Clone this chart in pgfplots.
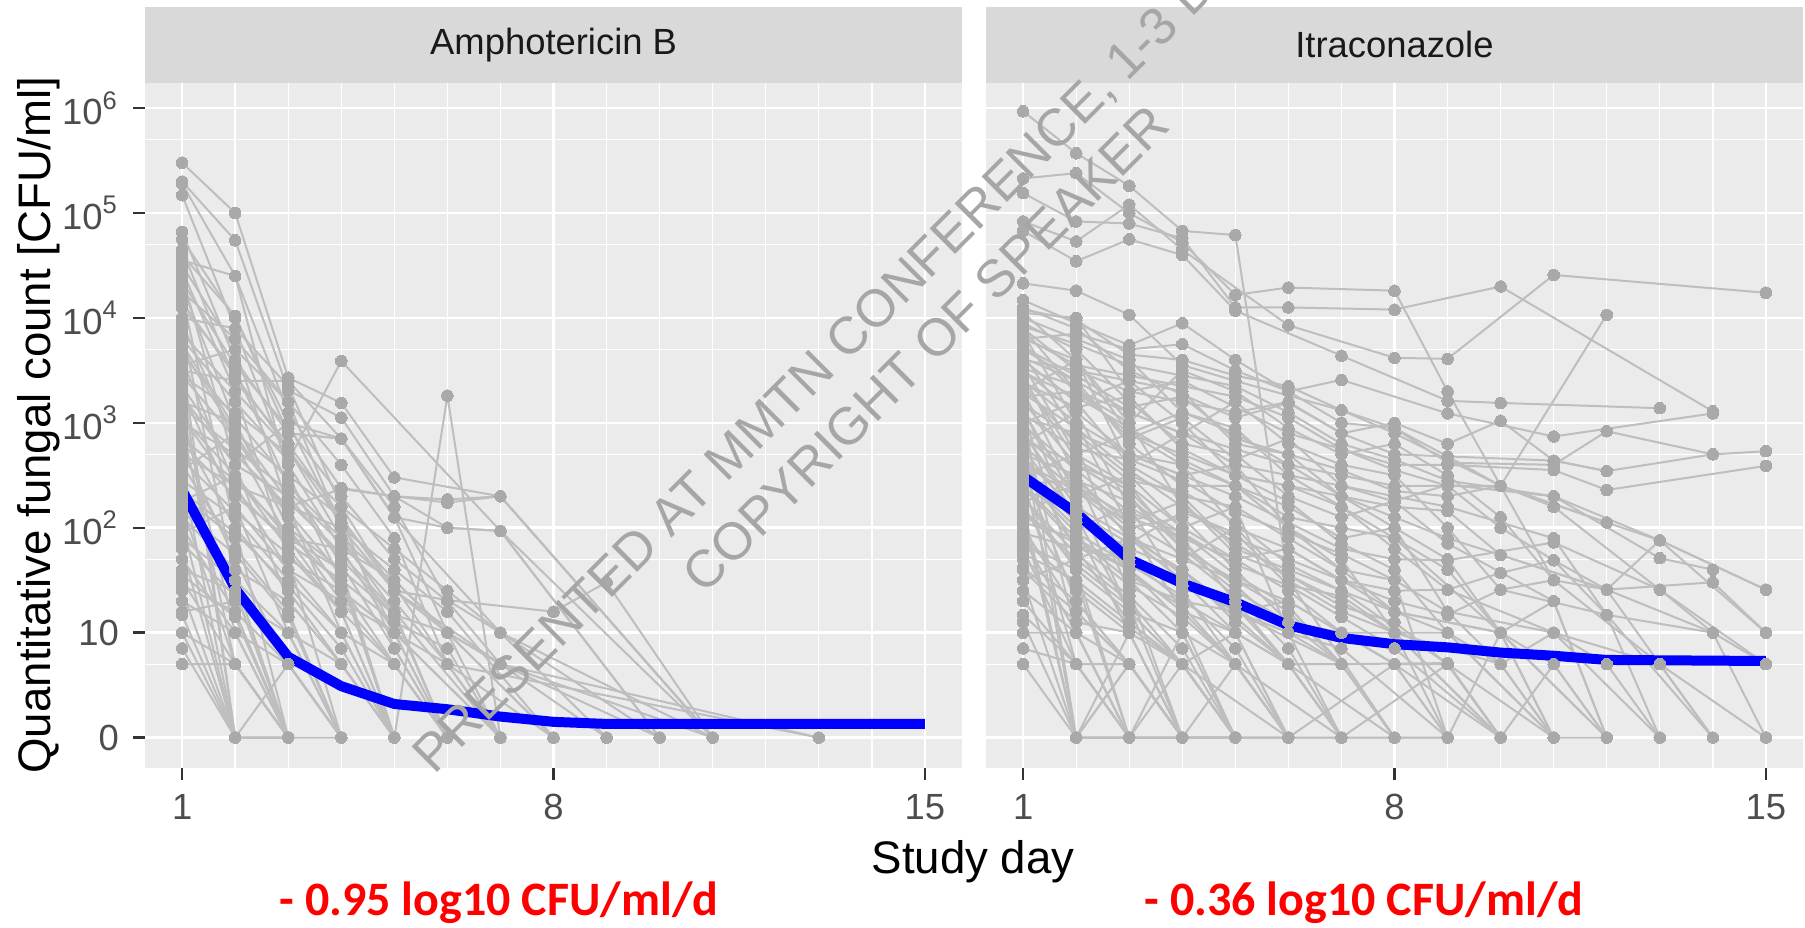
\documentclass[border=0pt]{standalone}
\usepackage{fontspec}
\setmainfont{Liberation Sans}
\newfontfamily\calib{Carlito}
\usepackage{pgfplots}
\pgfplotsset{compat=1.18}
\definecolor{panelbg}{HTML}{EBEBEB}
\definecolor{stripbg}{HTML}{D9D9D9}
\definecolor{linegray}{HTML}{BEBEBE}
\definecolor{ptgray}{HTML}{A9A9A9}
\definecolor{tickgray}{HTML}{4D4D4D}
\definecolor{tickmark}{HTML}{333333}
\definecolor{wm}{HTML}{A6A6A6}
\pgfplotsset{
  gg/.style={
    scale only axis, width=204.25pt, height=171.25pt,
    xmin=0.3, xmax=15.7, ymin=-0.29, ymax=6.24,
    axis background/.style={fill=panelbg},
    axis line style={draw=none},
    grid=both,
    major grid style={white, line width=0.65pt},
    minor grid style={white, line width=0.35pt},
    xtick={1,8,15}, xticklabels={1,8,15},
    minor xtick={2,3,4,5,6,7,9,10,11,12,13,14},
    ytick={0,1,2,3,4,5,6},
    minor ytick={-0.30103,0.69897,1.69897,2.69897,3.69897,4.69897,5.69897},
    tick align=outside, major tick length=3pt, minor tick length=0pt,
    xtick pos=left, ytick pos=left,
    major tick style={tickmark, line width=0.6pt},
    tick label style={font=\fontsize{9.1}{10.9}\selectfont, text=tickgray},
  },
  s/.style={color=linegray, line width=0.5pt, mark=*, mark size=1.45pt,
    mark options={fill=ptgray, draw=ptgray, line width=0pt}},
  mean/.style={color=blue, line width=2.5pt, line join=round, no marks},
}
\begin{document}
\begin{tikzpicture}
\useasboundingbox (0,0) rectangle (451.25pt,232pt);
% ---------------- Amphotericin B ----------------
\begin{axis}[gg, at={(36.25pt,40pt)}, anchor=south west,
  yticklabels={0,10,10\textsuperscript{2},10\textsuperscript{3},10\textsuperscript{4},10\textsuperscript{5},10\textsuperscript{6}}]
\addplot[s] coordinates {(1,5.48)(2,5.0)(3,3.43)(4,3.19)(5,2.48)(7,2.3)(11,0)};
\addplot[s] coordinates {(1,5.3)(2,4.74)(3,3.31)(4,3.05)(5,2.3)(6,2.24)(7,2.3)(11,0)};
\addplot[s] coordinates {(1,5.28)(2,4.4)(3,3.1)(4,2.38)(5,2.3)(6,2.0)(7,1.97)(10,0)};
\addplot[s] coordinates {(1,5.17)(2,3.9)(3,2.6)(4,1.8)(5,1.0)(6,0)};
\addplot[s] coordinates {(1,4.82)(2,3.6)(3,2.9)(4,2.85)(5,2.1)(7,1.0)(10,0)};
\addplot[s] coordinates {(1,4.75)(2,4.0)(3,3.0)(4,2.0)(5,1.4)(6,1.31)(8,1.2)(9,1.48)(11,0)};
\addplot[s] coordinates {(1,4.55)(2,4.4)(3,2.5)(4,1.5)(5,0)};
\addplot[s] coordinates {(1,4.5)(2,3.7)(3,2.2)(4,1.0)(5,0)};
\addplot[s] coordinates {(1,4.45)(2,3.3)(3,1.7)(4,0)};
\addplot[s] coordinates {(1,4.4)(2,2.6)(3,1.3)(4,0.7)(5,0)};
\addplot[s] coordinates {(1,4.3)(2,3.0)(3,2.0)(4,1.6)(5,1.17)(6,1.0)(7,0.7)(10,0)};
\addplot[s] coordinates {(1,4.2)(2,2.0)(3,0)};
\addplot[s] coordinates {(1,4.1)(2,3.5)(3,2.4)(4,1.9)(5,1.45)(6,0.7)(8,0)};
\addplot[s] coordinates {(1,4.0)(2,3.9)(3,3.35)(4,2.2)(5,1.4)(6,1.0)(7,0)};
\addplot[s] coordinates {(1,3.95)(2,2.8)(3,1.9)(4,1.2)(5,0.7)(6,0)};
\addplot[s] coordinates {(1,3.9)(2,1.5)(3,0)(4,0)};
\addplot[s] coordinates {(1,3.8)(2,3.2)(3,2.64)(4,3.59)(7,1.97)(11,0)};
\addplot[s] coordinates {(1,3.7)(2,2.9)(3,2.1)(4,1.4)(5,1.0)(6,0.7)(7,0)};
\addplot[s] coordinates {(1,3.6)(2,2.4)(3,1.6)(4,1.0)(5,0)};
\addplot[s] coordinates {(1,3.5)(2,3.4)(3,2.8)(4,2.1)(5,0.85)(6,0)};
\addplot[s] coordinates {(1,3.4)(2,0)(3,0)};
\addplot[s] coordinates {(1,3.35)(2,2.6)(3,2.3)(4,1.7)(5,1.17)(6,0)};
\addplot[s] coordinates {(1,3.3)(2,2.2)(3,1.0)(4,0)};
\addplot[s] coordinates {(1,3.2)(2,3.0)(3,2.0)(4,1.3)(5,0.7)(6,0)};
\addplot[s] coordinates {(1,3.1)(2,1.0)(3,0)};
\addplot[s] coordinates {(1,3.05)(2,2.5)(3,1.8)(4,1.2)(5,0)};
\addplot[s] coordinates {(1,3.0)(2,2.7)(3,2.2)(4,2.0)(5,1.0)(7,0)};
\addplot[s] coordinates {(1,2.95)(2,0.7)(3,0)};
\addplot[s] coordinates {(1,2.9)(2,2.0)(3,1.4)(4,0.7)(5,0)};
\addplot[s] coordinates {(1,2.8)(2,2.3)(3,1.9)(4,1.6)(5,0)(6,3.26)(7,0)};
\addplot[s] coordinates {(1,2.75)(2,1.7)(3,0.7)(4,0)};
\addplot[s] coordinates {(1,2.7)(2,2.4)(3,2.2)(4,2.37)(5,2.3)(6,2.27)(7,2.3)(11,0)};
\addplot[s] coordinates {(1,2.6)(2,1.8)(3,1.2)(4,0)};
\addplot[s] coordinates {(1,2.5)(2,0)(3,0.7)(4,0)};
\addplot[s] coordinates {(1,2.45)(2,2.1)(3,1.5)(4,1.0)(5,0.7)(6,0)};
\addplot[s] coordinates {(1,2.4)(2,1.4)(3,0)};
\addplot[s] coordinates {(1,2.3)(2,1.9)(3,1.7)(4,1.4)(5,1.0)(6,0)};
\addplot[s] coordinates {(1,2.2)(2,0.7)(3,0)};
\addplot[s] coordinates {(1,2.1)(2,1.6)(3,1.3)(4,0.7)(5,0)};
\addplot[s] coordinates {(1,2.0)(2,1.2)(3,0)};
\addplot[s] coordinates {(1,1.9)(2,1.5)(3,1.0)(4,0)};
\addplot[s] coordinates {(1,1.8)(2,0)};
\addplot[s] coordinates {(1,1.7)(2,1.0)(3,0.7)(4,0)};
\addplot[s] coordinates {(1,1.6)(2,1.4)(3,0)};
\addplot[s] coordinates {(1,1.5)(2,0.7)(3,0)};
\addplot[s] coordinates {(1,1.4)(2,0)};
\addplot[s] coordinates {(1,1.3)(2,1.0)(3,0)};
\addplot[s] coordinates {(1,1.17)(2,0)};
\addplot[s] coordinates {(1,1.0)(2,0.7)(3,0)};
\addplot[s] coordinates {(1,0.85)(2,0)};
\addplot[s] coordinates {(1,0.7)(2,0.7)(3,0)};
\addplot[s] coordinates {(1,4.6)(2,4.02)(3,2.9)(4,2.85)(5,2.2)(6,1.31)(7,1.0)(9,0)};
\addplot[s] coordinates {(1,3.55)(2,3.7)(3,3.2)(4,2.0)(5,1.6)(6,1.2)(8,0)};
\addplot[s] coordinates {(1,2.55)(2,2.9)(3,2.5)(4,2.1)(5,1.4)(7,0.7)(13,0)};
\addplot[s] coordinates {(1,3.25)(2,2.6)(3,3.0)(4,2.85)(5,2.1)(6,2.0)(7,1.97)(10,0)};
\addplot[s] coordinates {(1,2.25)(2,2.5)(3,1.9)(4,1.8)(5,1.5)(6,1.0)(7,0.7)(11,0)};
\addplot[s] coordinates {(1,1.95)(2,2.2)(3,1.6)(4,1.3)(5,1.0)(7,0)};
\addplot[s] coordinates {(1,3.45)(2,3.1)(3,2.7)(4,2.2)(5,1.8)(6,1.4)(7,1.0)(11,0)};
\addplot[s] coordinates {(1,4.25)(2,3.8)(3,3.2)(4,2.6)(5,1.9)(6,0.7)(13,0)};
\addplot[s] coordinates {(1,4.65)(2,3.4)(3,3.4)(4,2.85)(5,2.1)(6,1.0)(8,0)};
\addplot[s] coordinates {(1,1.2)(2,1.3)(3,1.0)(4,0.7)(5,0)};
\addplot[s] coordinates {(1,1.0)(2,0)(3,0)};
\addplot[s] coordinates {(1,3.85)(2,3.3)(3,2.75)(4,1.9)(5,1.2)(6,0)};
\addplot[s] coordinates {(1,3.65)(2,3.05)(3,2.45)(4,1.65)(5,0.85)(6,0)};
\addplot[s] coordinates {(1,3.45)(2,2.85)(3,2.15)(4,1.55)(5,0)};
\addplot[s] coordinates {(1,3.15)(2,2.75)(3,2.35)(4,1.85)(5,1.3)(6,0.7)(7,0)};
\addplot[s] coordinates {(1,2.85)(2,2.45)(3,1.95)(4,1.45)(5,0.7)(6,0)};
\addplot[s] coordinates {(1,2.65)(2,2.15)(3,1.75)(4,1.2)(5,0)};
\addplot[s] coordinates {(1,2.35)(2,1.95)(3,1.45)(4,0.85)(5,0)};
\addplot[s] coordinates {(1,2.15)(2,1.75)(3,1.15)(4,0)};
\addplot[s] coordinates {(1,1.85)(2,1.35)(3,0.7)(4,0)};
\addplot[s] coordinates {(1,1.55)(2,1.15)(3,0)};
\addplot[s] coordinates {(1,4.35)(2,3.55)(3,2.95)(4,2.3)(5,1.7)(6,1.3)(7,0.7)(9,0)};
\addplot[s] coordinates {(1,4.15)(2,3.45)(3,2.75)(4,2.05)(5,1.5)(6,1.0)(8,0)};
\addplot[s] coordinates {(1,3.75)(2,2.95)(3,2.25)(4,1.75)(5,1.2)(7,0)};
\addplot[s] coordinates {(1,3.58)(2,0)(3,0)};
\addplot[s] coordinates {(1,2.05)(2,0)(3,0)};
\addplot[s] coordinates {(1,1.45)(2,1.2)(3,0.7)(4,0)};
\addplot[s] coordinates {(1,3.05)(2,2.35)(3,1.85)(4,1.5)(5,1.1)(6,0.85)(7,0)};
\addplot[mean] coordinates {(1,2.36)(2,1.42)(3,0.77)(4,0.49)(5,0.32)(6,0.27)(7,0.2)(8,0.15)(9,0.13)(15,0.13)};
\end{axis}
% ---------------- Itraconazole ----------------
\begin{axis}[gg, at={(246.5pt,40pt)}, anchor=south west,
  yticklabels={}, ytick style={draw=none}]
\addplot[s] coordinates {(1,5.97)(2,5.57)(3,5.26)(4,4.83)(5,4.79)(6,1.5)(8,0)};
\addplot[s] coordinates {(1,5.33)(2,5.38)(3,5.0)(4,4.72)(5,4.22)(6,4.29)(8,4.26)(9,3.3)(11,1.5)};
\addplot[s] coordinates {(1,5.19)(2,4.92)(3,4.9)(4,4.76)(5,4.1)(6,4.1)(8,4.08)(10,4.3)(14,3.11)};
\addplot[s] coordinates {(1,4.92)(2,4.73)(3,5.08)(4,4.65)(6,3.93)(8,3.62)(9,3.61)(11,4.41)(15,4.24)};
\addplot[s] coordinates {(1,4.83)(2,4.54)(3,4.75)(4,4.6)(5,4.07)(7,3.64)(9,3.21)(10,3.19)(13,3.14)};
\addplot[s] coordinates {(1,4.33)(2,4.26)(3,4.03)(4,3.55)(5,3.4)(7,3.12)(8,2.9)(10,2.4)(12,4.03)};
\addplot[s] coordinates {(1,4.17)(2,3.95)(3,3.74)(4,3.95)(5,3.6)(6,3.3)(7,3.41)(9,3.09)(11,2.87)(14,3.09)};
\addplot[s] coordinates {(1,4.1)(2,3.9)(3,3.5)(4,3.27)(5,3.05)(6,3.19)(7,2.9)(8,2.7)(9,2.68)(11,2.64)(12,2.54)(14,2.7)(15,2.73)};
\addplot[s] coordinates {(1,4.05)(2,4.0)(3,3.3)(4,3.4)(6,2.9)(8,2.6)(9,2.6)(11,2.55)(12,2.36)(15,2.59)};
\addplot[s] coordinates {(1,4.0)(2,3.8)(3,3.6)(4,3.1)(5,2.9)(6,2.6)(7,2.5)(8,2.4)(10,2.4)(12,2.05)(13,1.88)(15,1.41)};
\addplot[s] coordinates {(1,3.95)(2,3.7)(3,3.2)(4,2.8)(5,2.7)(6,2.3)(7,2.1)(9,2.41)(11,2.3)(13,1.71)(14,1.6)};
\addplot[s] coordinates {(1,3.9)(2,3.5)(3,3.4)(4,3.0)(5,2.5)(6,2.4)(8,2.2)(9,2.16)(10,1.74)(12,1.41)(14,1.48)(15,1.0)};
\addplot[s] coordinates {(1,3.85)(2,3.0)(3,2.7)(4,2.5)(5,2.3)(7,1.8)(8,1.7)(9,1.69)(11,1.86)(13,1.41)(15,0.7)};
\addplot[s] coordinates {(1,3.8)(2,3.6)(3,2.9)(4,2.6)(5,2.0)(6,1.8)(7,1.5)(8,1.4)(9,1.41)(10,1.57)(11,1.69)(12,1.17)(14,1.0)(15,0)};
\addplot[s] coordinates {(1,3.75)(2,3.3)(3,3.0)(4,2.2)(5,1.9)(6,1.7)(8,1.3)(9,1.17)(10,1.41)(11,1.5)(13,0.7)(14,0)};
\addplot[s] coordinates {(1,3.7)(2,3.4)(3,2.8)(4,2.4)(5,2.4)(6,2.1)(7,2.0)(8,1.9)(10,1.0)(11,1.3)(12,0)};
\addplot[s] coordinates {(1,3.65)(2,2.9)(3,2.5)(4,2.0)(5,1.7)(6,1.4)(7,1.0)(9,1.0)(10,0.7)(11,1.0)(13,0)};
\addplot[s] coordinates {(1,3.6)(2,3.2)(3,2.6)(4,2.3)(5,2.2)(6,1.0)(7,0.7)(9,0.71)(10,0)(11,0.7)(12,0)};
\addplot[s] coordinates {(1,3.55)(2,2.7)(3,2.4)(4,1.8)(5,1.5)(6,1.2)(7,0.7)(8,0)(9,0)};
\addplot[s] coordinates {(1,3.5)(2,3.1)(3,2.2)(4,1.9)(5,1.3)(6,0.7)(7,0)(9,0.7)(11,0)};
\addplot[s] coordinates {(1,3.45)(2,2.5)(3,1.9)(4,1.5)(5,1.0)(6,0)(8,0.7)(10,0)};
\addplot[s] coordinates {(1,3.4)(2,3.0)(3,2.0)(4,1.2)(5,0.7)(6,0)};
\addplot[s] coordinates {(1,3.35)(2,2.8)(3,1.5)(4,1.0)(5,0)(7,0)};
\addplot[s] coordinates {(1,3.3)(2,2.3)(3,1.2)(4,0.7)(5,0)};
\addplot[s] coordinates {(1,3.25)(2,3.3)(3,3.1)(4,2.9)(5,3.2)(6,2.8)(7,2.6)(8,2.5)(9,2.0)(10,1.41)(12,1.17)(13,0)};
\addplot[s] coordinates {(1,3.2)(2,2.6)(3,2.3)(4,1.7)(5,2.0)(6,1.5)(7,1.2)(8,1.0)(10,0)};
\addplot[s] coordinates {(1,3.15)(2,2.0)(3,1.0)(4,0)(6,0)};
\addplot[s] coordinates {(1,3.1)(2,1.5)(3,0)(5,0)};
\addplot[s] coordinates {(1,3.05)(2,2.9)(3,2.7)(4,2.6)(5,2.4)(6,2.2)(7,1.9)(8,2.0)(9,1.7)(10,1.0)(11,0)};
\addplot[s] coordinates {(1,3.0)(2,2.4)(3,2.0)(4,2.1)(5,1.6)(6,1.1)(7,1.0)(8,0.7)(9,0)};
\addplot[s] coordinates {(1,2.95)(2,1.0)(3,0)(4,0)};
\addplot[s] coordinates {(1,2.9)(2,2.2)(3,1.7)(4,1.3)(5,1.2)(7,0.7)(8,0)};
\addplot[s] coordinates {(1,2.85)(2,2.6)(3,2.4)(4,2.0)(5,2.2)(6,1.9)(7,1.6)(8,1.5)(9,0)(10,1.0)(11,0.7)(12,0)};
\addplot[s] coordinates {(1,2.8)(2,0)(3,0.7)(4,0)};
\addplot[s] coordinates {(1,2.75)(2,2.1)(3,1.8)(4,1.6)(5,1.1)(6,0.7)(7,0)(8,0)};
\addplot[s] coordinates {(1,2.7)(2,2.5)(3,1.4)(4,0)(5,0)};
\addplot[s] coordinates {(1,2.65)(2,1.8)(3,1.1)(4,0.7)(5,1.0)(6,0)};
\addplot[s] coordinates {(1,2.6)(2,2.3)(3,2.5)(4,2.3)(5,1.8)(6,1.6)(7,1.4)(8,1.2)(9,1.0)(11,0)};
\addplot[s] coordinates {(1,2.55)(2,1.3)(3,0.7)(4,0)};
\addplot[s] coordinates {(1,2.5)(2,2.0)(3,2.2)(4,1.4)(5,0.7)(6,0)(7,0)};
\addplot[s] coordinates {(1,2.45)(2,0.7)(3,0)(5,0)};
\addplot[s] coordinates {(1,2.4)(2,1.9)(3,1.6)(4,1.1)(5,0)};
\addplot[s] coordinates {(1,2.35)(2,2.2)(3,1.9)(4,1.7)(5,1.5)(6,1.3)(7,1.0)(8,0.7)(9,0.7)(10,0)};
\addplot[s] coordinates {(1,2.3)(2,1.6)(3,0)(4,0.7)(5,0)};
\addplot[s] coordinates {(1,2.25)(2,2.4)(3,2.1)(4,1.9)(5,1.7)(6,1.8)(7,1.5)(8,1.2)(10,1.0)(12,0)};
\addplot[s] coordinates {(1,2.2)(2,1.4)(3,1.0)(4,0)};
\addplot[s] coordinates {(1,2.15)(2,1.7)(3,1.3)(4,0.7)(6,0)};
\addplot[s] coordinates {(1,2.1)(2,0)(3,0)};
\addplot[s] coordinates {(1,2.05)(2,1.9)(3,1.5)(4,1.3)(5,1.0)(6,0.7)(7,0.7)(8,0)};
\addplot[s] coordinates {(1,2.0)(2,1.2)(3,0.7)(4,0)(5,0)};
\addplot[s] coordinates {(1,1.95)(2,1.8)(3,1.7)(4,1.5)(5,1.2)(6,1.0)(7,0)(9,0)};
\addplot[s] coordinates {(1,1.9)(2,1.0)(3,0)(4,0)};
\addplot[s] coordinates {(1,1.85)(2,1.6)(3,1.2)(4,1.0)(5,0.7)(6,0)};
\addplot[s] coordinates {(1,1.8)(2,0.7)(3,0)};
\addplot[s] coordinates {(1,1.75)(2,1.5)(3,1.1)(4,0.7)(5,0)(6,0)};
\addplot[s] coordinates {(1,1.7)(2,1.3)(3,0.7)(4,0)};
\addplot[s] coordinates {(1,1.6)(2,1.1)(3,1.0)(4,0.7)(5,0)};
\addplot[s] coordinates {(1,1.5)(2,0)(3,0.7)(4,0)};
\addplot[s] coordinates {(1,1.4)(2,1.0)(3,0.7)(4,0)};
\addplot[s] coordinates {(1,1.3)(2,0.7)(3,0)};
\addplot[s] coordinates {(1,1.17)(2,0.7)(3,0.7)(4,0)};
\addplot[s] coordinates {(1,1.0)(2,1.0)(3,0)};
\addplot[s] coordinates {(1,0.7)(2,0)(3,0)};
\addplot[s] coordinates {(1,0.85)(2,0.7)(3,0)};
\addplot[s] coordinates {(1,1.1)(2,0)(3,0)};
\addplot[s] coordinates {(1,3.8)(2,3.85)(3,3.7)(4,3.75)(5,3.5)(6,3.3)(7,3.0)(8,2.95)(9,2.62)(11,2.6)(12,2.92)(14,2.7)};
\addplot[s] coordinates {(1,3.6)(2,3.5)(3,3.3)(4,3.2)(5,3.1)(6,3.2)(7,2.9)(8,3.0)(9,2.8)(10,3.02)(11,2.64)(12,2.54)};
\addplot[s] coordinates {(1,3.0)(2,3.2)(3,3.4)(4,3.3)(5,2.8)(6,2.7)(7,2.3)(8,2.1)(9,1.9)(10,1.74)(12,1.41)(13,0.7)(15,0)};
\addplot[s] coordinates {(1,2.5)(2,2.7)(3,2.9)(4,3.1)(5,2.95)(6,2.5)(7,2.2)(8,1.8)(9,1.41)(11,1.0)(13,0.7)(14,0)};
\addplot[s] coordinates {(1,2.8)(2,3.1)(3,2.7)(4,2.5)(5,2.6)(6,2.0)(7,1.7)(8,1.0)(10,0)};
\addplot[s] coordinates {(1,3.9)(2,3.3)(3,2.9)(4,2.7)(5,2.5)(6,2.4)(7,2.2)(8,1.9)(9,1.6)(10,1.0)(11,0)(12,0)};
\addplot[s] coordinates {(1,2.0)(2,2.6)(3,2.3)(4,1.8)(5,1.4)(6,1.1)(7,0.7)(8,0)};
\addplot[s] coordinates {(1,4.05)(2,3.6)(3,2.6)(4,2.9)(5,2.6)(6,2.5)(7,2.4)(8,2.3)(9,2.2)(11,1.9)(12,1.17)(14,0)};
\addplot[s] coordinates {(1,1.5)(2,1.7)(3,1.9)(4,1.6)(5,1.2)(6,1.3)(7,1.0)(8,0.7)(9,0)};
\addplot[s] coordinates {(1,3.3)(2,3.6)(3,3.0)(4,3.5)(5,3.3)(6,2.95)(7,2.7)(8,2.8)(9,2.5)(10,2.1)(11,1.5)(12,1.41)(13,1.88)(15,1.0)};
\addplot[s] coordinates {(1,3.62)(2,3.4)(3,3.1)(4,2.9)(5,2.75)(6,2.6)(7,2.3)(8,2.0)(9,1.2)(10,0.7)(11,0)};
\addplot[s] coordinates {(1,3.48)(2,3.25)(3,2.95)(4,2.65)(5,2.4)(6,2.0)(7,1.6)(8,1.2)(10,1.0)(12,0)};
\addplot[s] coordinates {(1,3.38)(2,3.15)(3,3.25)(4,2.75)(5,2.5)(6,2.25)(7,1.85)(8,1.6)(9,1.0)(11,0)};
\addplot[s] coordinates {(1,3.28)(2,2.95)(3,2.55)(4,2.2)(5,1.85)(6,1.55)(7,1.3)(8,1.0)(9,0)};
\addplot[s] coordinates {(1,3.18)(2,2.85)(3,2.45)(4,2.35)(5,2.05)(6,1.65)(7,1.4)(9,0.7)(10,0)};
\addplot[s] coordinates {(1,3.08)(2,2.75)(3,2.65)(4,2.45)(5,2.15)(6,1.95)(7,1.75)(8,1.5)(9,1.2)(11,1.0)(12,0.7)(13,0)};
\addplot[s] coordinates {(1,2.98)(2,2.55)(3,2.15)(4,1.95)(5,1.55)(6,1.25)(7,0.7)(8,0)};
\addplot[s] coordinates {(1,2.88)(2,2.45)(3,2.05)(4,1.75)(5,1.35)(6,0.85)(7,0)};
\addplot[s] coordinates {(1,2.78)(2,2.35)(3,1.95)(4,1.55)(5,1.15)(6,0.7)(8,0)};
\addplot[s] coordinates {(1,2.68)(2,2.15)(3,1.85)(4,2.15)(5,1.95)(6,1.45)(7,1.15)(8,0.85)(10,0)};
\addplot[s] coordinates {(1,2.58)(2,2.05)(3,1.75)(4,1.45)(5,1.25)(6,0.7)(7,0)};
\addplot[s] coordinates {(1,2.48)(2,1.95)(3,1.65)(4,1.35)(5,0.85)(6,0)};
\addplot[s] coordinates {(1,2.38)(2,1.85)(3,1.45)(4,1.15)(5,0.7)(6,0)};
\addplot[s] coordinates {(1,2.28)(2,1.75)(3,1.35)(4,0.85)(5,0)};
\addplot[s] coordinates {(1,2.18)(2,1.65)(3,1.25)(4,0)};
\addplot[s] coordinates {(1,3.72)(2,3.45)(3,3.15)(4,3.25)(5,2.85)(6,2.7)(7,2.55)(8,2.35)(9,2.3)(10,2.4)(11,2.2)(13,1.41)(14,1.0)(15,0.7)};
\addplot[s] coordinates {(1,3.52)(2,3.35)(3,2.85)(4,3.05)(5,2.65)(6,2.85)(7,2.4)(8,2.25)(9,1.85)(11,1.3)(12,0)};
\addplot[s] coordinates {(1,3.42)(2,2.65)(3,2.35)(4,1.85)(5,1.45)(6,1.0)(7,0.85)(9,0)};
\addplot[s] coordinates {(1,3.12)(2,2.25)(3,1.55)(4,1.25)(5,0.7)(7,0)};
\addplot[s] coordinates {(1,2.92)(2,2.1)(3,1.2)(4,0.7)(5,0)};
\addplot[s] coordinates {(1,2.62)(2,2.35)(3,2.05)(4,2.25)(5,1.75)(6,1.55)(7,1.25)(8,1.1)(9,0.7)(10,0)};
\addplot[s] coordinates {(1,2.42)(2,2.45)(3,2.25)(4,1.95)(5,1.65)(6,1.45)(7,1.35)(8,1.0)(10,0.7)(11,0)};
\addplot[s] coordinates {(1,2.12)(2,1.85)(3,1.6)(4,1.2)(5,1.0)(6,0.7)(7,0)};
\addplot[s] coordinates {(1,1.88)(2,1.45)(3,1.05)(4,0.7)(5,0)};
\addplot[s] coordinates {(1,1.62)(2,1.2)(3,0.7)(4,0)};
\addplot[s] coordinates {(1,3.82)(2,3.55)(3,3.45)(4,3.35)(5,3.25)(6,3.05)(7,2.75)(8,2.55)(9,2.4)(10,2.0)(11,1.69)(12,1.41)(14,1.0)};
\addplot[s] coordinates {(1,3.92)(2,3.75)(3,3.55)(4,3.45)(5,3.35)(6,3.1)(7,2.8)(8,2.65)(9,2.45)(11,2.3)(13,1.88)(15,1.41)};
\addplot[s] coordinates {(1,4.08)(2,3.98)(3,3.65)(4,3.6)(5,3.45)(6,3.35)(7,3.12)(8,2.95)(9,2.68)(10,2.4)(12,2.05)};
\addplot[s] coordinates {(1,2.2)(2,0)(3,1.0)(4,0)(5,0.7)(6,0)};
\addplot[s] coordinates {(1,3.15)(2,0)(3,0)(4,1.0)(5,0)};
\addplot[mean] coordinates {(1,2.49)(2,2.14)(3,1.7)(4,1.47)(5,1.29)(6,1.07)(7,0.95)(8,0.89)(9,0.86)(10,0.81)(11,0.78)(12,0.74)(15,0.73)};
\end{axis}
% strips
\fill[stripbg] (36.25pt,211.25pt) rectangle (240.5pt,230.25pt);
\fill[stripbg] (246.5pt,211.25pt) rectangle (450.75pt,230.25pt);
\node[text=black!90, font=\fontsize{9.1}{10.9}\selectfont] at (138.4pt,220.75pt) {Amphotericin B};
\node[text=black!90, font=\fontsize{9.1}{10.9}\selectfont] at (348.6pt,220.75pt) {Itraconazole};
% axis titles
\node[rotate=90, font=\fontsize{11.4}{13.7}\selectfont] at (9.75pt,125.75pt) {Quantitative fungal count [CFU/ml]};
\node[font=\fontsize{11.4}{13.7}\selectfont] at (243.25pt,16.5pt) {Study day};
% annotations
\node[text=red, font=\calib\bfseries\fontsize{12}{14.4}\selectfont] at (124.75pt,6.25pt) {- 0.95 log10 CFU/ml/d};
\node[text=red, font=\calib\bfseries\fontsize{12}{14.4}\selectfont] at (341pt,6.25pt) {- 0.36 log10 CFU/ml/d};
% watermark
\node[text=wm, rotate=45, anchor=base west, inner sep=0pt, font=\fontsize{13.1}{15}\selectfont] at (108.5pt,38pt) {PRESENTED AT MMTN CONFERENCE, 1-3 DEC};
\node[text=wm, rotate=45, anchor=base west, inner sep=0pt, font=\fontsize{13.1}{15}\selectfont] at (176pt,83pt) {COPYRIGHT OF SPEAKER};
\end{tikzpicture}
\end{document}
